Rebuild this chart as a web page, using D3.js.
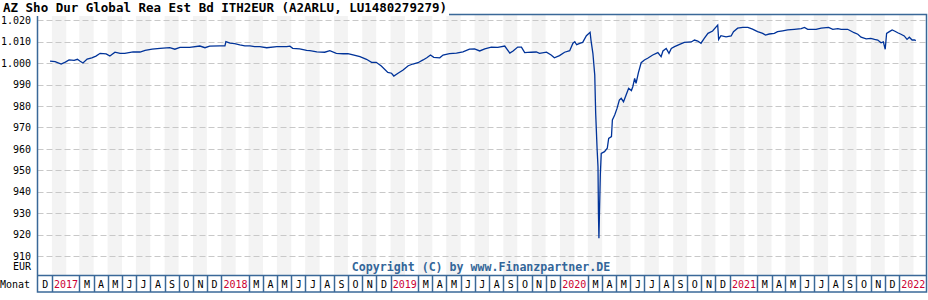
<!DOCTYPE html>
<html>
<head>
<meta charset="utf-8">
<script src="https://cdn.jsdelivr.net/npm/d3@7"></script>
<style>
  body { margin: 0; background: #fff; }
  text { font-family: "DejaVu Sans Mono", monospace; }
</style>
</head>
<body>
<div id="chart"></div>
<script>
const priceDates = [
  "2016-12-28","2017-01-08","2017-01-21","2017-01-30","2017-02-07","2017-02-18","2017-02-25","2017-03-03","2017-03-09","2017-03-18",
  "2017-03-28","2017-04-06","2017-04-15","2017-04-28","2017-05-06","2017-05-17","2017-05-28","2017-06-07","2017-06-25","2017-07-10",
  "2017-07-21","2017-08-05","2017-08-22","2017-09-12","2017-09-23","2017-10-04","2017-10-25","2017-11-16","2017-11-27","2017-12-07",
  "2017-12-29",
  "2018-01-09","2018-01-11","2018-01-20","2018-01-30","2018-02-10","2018-02-21","2018-03-04","2018-03-14","2018-03-25","2018-04-09",
  "2018-05-01","2018-05-22","2018-05-29","2018-06-04","2018-06-19","2018-07-04","2018-07-11","2018-07-26","2018-08-12","2018-08-23",
  "2018-09-06","2018-09-21","2018-10-01","2018-10-12","2018-10-27","2018-11-10","2018-11-21","2018-12-01","2018-12-12","2018-12-26",
  "2019-01-03","2019-01-08","2019-01-17","2019-01-28","2019-02-08","2019-02-18","2019-03-01","2019-03-12","2019-03-20","2019-03-28",
  "2019-04-04","2019-04-17","2019-04-24","2019-05-08","2019-05-23","2019-06-06","2019-06-20","2019-07-01","2019-07-12","2019-07-23",
  "2019-08-06","2019-08-20","2019-09-04","2019-09-15","2019-09-22","2019-10-02","2019-10-10","2019-10-17","2019-10-31","2019-11-11",
  "2019-11-18","2019-12-03","2019-12-13","2019-12-20","2019-12-31",
  "2020-01-11","2020-01-22","2020-01-29","2020-02-02","2020-02-06","2020-02-14","2020-02-19","2020-02-27","2020-03-06","2020-03-08",
  "2020-03-12","2020-03-16","2020-03-18","2020-03-21","2020-03-23","2020-03-24","2020-03-25","2020-03-26","2020-03-28","2020-03-30",
  "2020-04-06","2020-04-12","2020-04-15","2020-04-21","2020-04-23","2020-04-28","2020-05-03","2020-05-08","2020-05-12","2020-05-17",
  "2020-05-24","2020-05-28","2020-06-03","2020-06-06","2020-06-10","2020-06-13","2020-06-18","2020-06-24","2020-07-01","2020-07-08",
  "2020-07-19","2020-07-30","2020-08-06","2020-08-10","2020-08-17","2020-08-23","2020-08-28","2020-09-04","2020-09-15","2020-09-25",
  "2020-10-10","2020-10-17","2020-10-24","2020-10-31","2020-11-07","2020-11-15","2020-11-25","2020-12-04","2020-12-06","2020-12-08",
  "2020-12-13","2020-12-24",
  "2021-01-04","2021-01-09","2021-01-18","2021-01-29","2021-02-09","2021-02-19","2021-03-02","2021-03-13","2021-03-19","2021-03-27",
  "2021-04-07","2021-04-14","2021-04-25","2021-05-06","2021-05-20","2021-06-04","2021-06-11","2021-06-18","2021-07-06","2021-07-17",
  "2021-08-02","2021-08-11","2021-08-22","2021-08-29","2021-09-12","2021-09-19","2021-09-26","2021-10-04","2021-10-11","2021-10-22",
  "2021-11-01","2021-11-09","2021-11-16","2021-11-23","2021-11-28","2021-12-02","2021-12-05","2021-12-11","2021-12-17","2021-12-22",
  "2021-12-29",
  "2022-01-05","2022-01-12","2022-01-18","2022-01-23","2022-01-29","2022-02-03","2022-02-06"
];
const priceValues = [
  1000.9,1000.7,999.6,1000.5,1001.5,1001.3,1001.8,1000.9,1000.1,1001.9,
  1002.5,1003.3,1004.6,1004.3,1003.3,1005.1,1004.6,1004.6,1005.3,1005.2,
  1006.0,1006.5,1006.9,1007.2,1006.5,1007.4,1007.4,1008.0,1007.2,1007.9,
  1008.1,
  1008.1,1010.0,1009.3,1009.1,1008.5,1008.1,1008.1,1007.7,1007.7,1007.2,
  1007.7,1007.7,1007.9,1006.9,1006.7,1006.0,1005.8,1005.3,1005.1,1005.8,
  1004.6,1004.4,1004.4,1003.9,1003.0,1001.8,1000.4,1000.4,998.7,995.7,
  995.3,994.0,995.3,996.8,998.8,999.6,1000.2,1001.5,1002.5,1003.8,
  1002.7,1002.5,1003.8,1004.4,1004.7,1005.3,1006.5,1006.7,1005.7,1006.7,
  1007.5,1007.4,1008.0,1004.7,1005.7,1007.5,1007.5,1004.9,1005.1,1005.2,
  1004.6,1005.1,1003.8,1002.5,1003.5,
  1005.1,1005.8,1009.3,1010.0,1008.6,1009.3,1009.7,1012.8,1014.4,1010.5,
  1004.6,994.5,976.6,960.3,951.7,929.9,918.3,928.4,947.8,957.9,
  958.7,960.3,964.9,965.7,973.5,975.8,978.9,982.8,983.6,982.0,
  986.0,988.3,987.2,989.0,992.9,990.6,995.5,1000.2,1001.5,1002.3,
  1003.8,1004.9,1003.0,1005.7,1006.9,1004.6,1006.9,1007.7,1008.8,1009.7,
  1009.9,1010.8,1010.3,1009.3,1011.6,1013.9,1015.0,1017.3,1017.8,1011.1,
  1012.8,1012.3,
  1012.7,1014.7,1016.3,1016.7,1016.7,1015.9,1014.7,1013.9,1013.1,1013.6,
  1013.9,1014.7,1015.1,1015.5,1015.8,1016.1,1016.7,1015.8,1015.8,1016.3,
  1016.7,1015.8,1016.1,1015.8,1015.8,1015.0,1014.2,1013.5,1012.1,1011.3,
  1011.6,1011.1,1010.8,1009.5,1009.9,1006.5,1013.9,1014.7,1015.5,1015.0,
  1014.2,
  1013.5,1012.7,1011.1,1012.1,1010.8,1010.8,1010.5
];
const yTicks = [910, 920, 930, 940, 950, 960, 970, 980, 990, 1000, 1010, 1020];
const monthLetters = ["J", "F", "M", "A", "M", "J", "J", "A", "S", "O", "N", "D"];

const title = "AZ Sho Dur Global Rea Est Bd ITH2EUR (A2ARLU, LU1480279279)";
const frameColor = "#3a6898";

const width = 928, height = 300;
const plotTop = 15, plotBottom = 275, rowBottom = 292;

const svg = d3.select("#chart")
  .append("svg")
  .attr("width", width)
  .attr("height", height);

const parse = d3.timeParse("%Y-%m-%d");
const data = priceDates.map((d, i) => ({date: parse(d), value: priceValues[i]}));

const start = new Date(2016, 11, 1), end = new Date(2022, 2, 1);
const x = d3.scaleTime().domain([start, end]).range([37.5, 926.5]);
const y = d3.scaleLinear().domain([901.15, 1022.47]).range([plotBottom, plotTop]);

const months = d3.timeMonth.range(start, end);

// month stripes
svg.append("g")
  .selectAll("rect")
  .data(months.filter(m => m.getMonth() % 2 === 0))
  .join("rect")
  .attr("x", d => x(d))
  .attr("y", plotTop)
  .attr("width", d => x(d3.timeMonth.offset(d, 1)) - x(d))
  .attr("height", plotBottom - plotTop)
  .attr("fill", "#f3f3f3");

// grid
svg.append("g")
  .selectAll("line")
  .data(yTicks)
  .join("line")
  .attr("x1", x.range()[0])
  .attr("x2", x.range()[1])
  .attr("y1", d => Math.round(y(d)) + 0.5)
  .attr("y2", d => Math.round(y(d)) + 0.5)
  .attr("stroke", "#c8c8c8")
  .attr("stroke-dasharray", "6,3");

const fmt = d3.formatLocale({decimal: ",", thousands: ".", grouping: [3], currency: ["", " EUR"]}).format(",");

// y axis labels
svg.append("g")
  .call(d3.axisLeft(y).tickValues(yTicks).tickFormat(fmt).tickSize(0).tickPadding(0))
  .attr("transform", "translate(31,0)")
  .call(g => g.select(".domain").remove())
  .selectAll("text")
  .attr("font-family", "DejaVu Sans Mono")
  .attr("font-size", 10)
  .attr("fill", "#000");

svg.append("text")
  .attr("x", 31).attr("y", 270)
  .attr("text-anchor", "end")
  .attr("font-size", 10)
  .text("EUR");

svg.append("text")
  .attr("x", 0).attr("y", 288)
  .attr("font-size", 10)
  .text("Monat");

svg.append("text")
  .attr("x", 481).attr("y", 271)
  .attr("text-anchor", "middle")
  .attr("font-size", 11.6)
  .attr("font-weight", "bold")
  .attr("fill", "#336699")
  .text("Copyright (C) by www.Finanzpartner.DE");

// price line
svg.append("path")
  .datum(data)
  .attr("fill", "none")
  .attr("stroke", "#003399")
  .attr("stroke-width", 1.3)
  .attr("d", d3.line().x(d => x(d.date)).y(d => y(d.value)));

// frame
svg.append("rect")
  .attr("x", 37.5).attr("y", plotTop - 0.5)
  .attr("width", 889).attr("height", rowBottom - plotTop + 0.5)
  .attr("fill", "none")
  .attr("stroke", frameColor)
  .attr("stroke-width", 1.5);

svg.append("line")
  .attr("x1", 37.5).attr("x2", 926.5)
  .attr("y1", plotBottom + 0.5).attr("y2", plotBottom + 0.5)
  .attr("stroke", frameColor)
  .attr("stroke-width", 1.5);

// month cells (Jan + Feb merged for the year label)
const cells = months.filter(m => m.getMonth() !== 1);
const cellEnd = m => m.getMonth() === 0 ? d3.timeMonth.offset(m, 2) : d3.timeMonth.offset(m, 1);

svg.append("g")
  .selectAll("line")
  .data(cells.slice(1))
  .join("line")
  .attr("x1", d => Math.round(x(d)) + 0.5)
  .attr("x2", d => Math.round(x(d)) + 0.5)
  .attr("y1", plotBottom)
  .attr("y2", rowBottom)
  .attr("stroke", frameColor)
  .attr("stroke-width", 1.5);

svg.append("g")
  .selectAll("text")
  .data(cells)
  .join("text")
  .attr("x", d => (x(d) + x(cellEnd(d))) / 2 + 0.5)
  .attr("y", 288)
  .attr("text-anchor", "middle")
  .attr("font-size", 10)
  .attr("fill", d => d.getMonth() === 0 ? "#cc0033" : "#000")
  .text(d => d.getMonth() === 0 ? d.getFullYear() : monthLetters[d.getMonth()]);

// title on white background (covers the top frame line)
const titleBg = svg.append("rect")
  .attr("x", 0).attr("y", 0)
  .attr("height", 16)
  .attr("fill", "#fff");
const titleText = svg.append("text")
  .attr("x", 3).attr("y", 12)
  .attr("font-size", 12.5)
  .attr("font-weight", "bold")
  .text(title);
titleBg.attr("width", titleText.node().getComputedTextLength() + 5);
</script>
</body>
</html>
